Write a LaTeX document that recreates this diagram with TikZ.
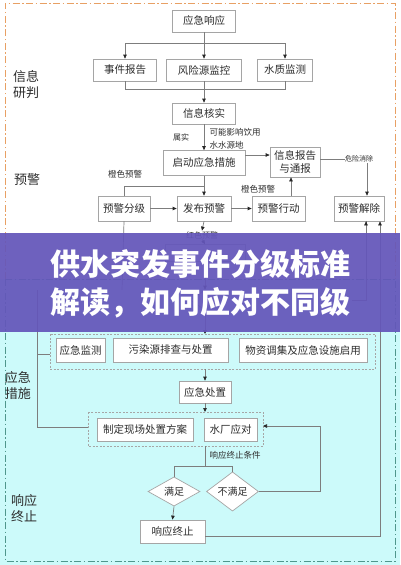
\documentclass[tikz,border=0pt]{standalone}
\usepackage{fontspec}
\newfontfamily\cjk{Noto Sans CJK SC}
\usetikzlibrary{shapes.geometric,arrows.meta}
\definecolor{orangeb}{RGB}{232,160,100}
\definecolor{tealb}{RGB}{80,150,140}
\definecolor{cyanbg}{RGB}{204,250,250}
\definecolor{boxline}{RGB}{165,165,165}
\definecolor{txt}{RGB}{45,45,45}
\definecolor{bannerc}{RGB}{100,86,186}
\definecolor{conn}{RGB}{125,125,125}
\tikzset{
  box/.style={draw=boxline, fill=white, line width=0.7pt, inner sep=0pt, text=txt,
    font=\cjk\fontsize{10.5}{13}\selectfont, align=center},
  arr/.style={draw=conn, line width=0.7pt, -{Triangle[length=4pt,width=3.5pt,color=black!85]}},
  ln/.style={draw=conn, line width=0.7pt},
  lbl/.style={font=\cjk\fontsize{8.5}{10}\selectfont, text=txt, inner sep=0.5pt, align=left},
  slbl/.style={font=\cjk\fontsize{7}{8}\selectfont, text=txt, inner sep=0.5pt},
  side/.style={font=\cjk\fontsize{13}{16}\selectfont, text=txt, align=center, inner sep=0pt},
  grp/.style={draw=black!35, dash pattern=on 2pt off 1.5pt, line width=0.5pt},
  dia/.style={diamond, draw=boxline, fill=white, line width=0.7pt, inner sep=0pt,
    minimum width=52pt, minimum height=27pt, text=txt, font=\cjk\fontsize{10}{12}\selectfont}
}
\begin{document}
\begin{tikzpicture}[x=1pt,y=-1pt]
\useasboundingbox (0,0) rectangle (400,565);
\fill[white] (0,0) rectangle (400,565);
% backgrounds
\fill[cyanbg] (0,279) rectangle (400,565);
\draw[orangeb, line width=1pt, dash pattern=on 7pt off 2.5pt on 1.5pt off 2.5pt] (5,279) -- (5,3) -- (395,3) -- (395,279);
\draw[tealb, line width=1pt, dash pattern=on 7pt off 2.5pt on 1.5pt off 2.5pt] (5,279) -- (5,561) -- (395,561) -- (395,279) -- cycle;

% side labels
\node[side] (sInfo) at (26,85) {信息\\研判};
\node[side] (sWarn) at (27,180) {预警};
\node[side] (sMeas) at (18,386) {应急\\措施};
\node[side] (sEnd) at (24,508) {响应\\终止};

% top part
\node[box, minimum width=63pt, minimum height=22pt] (yjxy) at (204,21) {应急响应};
\node[box, minimum width=63pt, minimum height=22pt] (sjbg) at (125,70) {事件报告};
\node[box, minimum width=75pt, minimum height=22pt] (fxy) at (204,70) {风险源监控};
\node[box, minimum width=55pt, minimum height=22pt] (szjc) at (285,70) {水质监测};
\node[box, minimum width=63pt, minimum height=21pt] (xxhs) at (204,113.5) {信息核实};
\node[box, minimum width=82pt, minimum height=25pt] (qdyj) at (204,163) {启动应急措施};
\node[box, minimum width=50pt, minimum height=30pt, font=\cjk\fontsize{10.5}{12.5}\selectfont] (xxbg) at (295,162) {信息报告\\与通报};
\node[box, minimum width=52pt, minimum height=25pt] (yjfj) at (124,208.5) {预警分级};
\node[box, minimum width=54pt, minimum height=25pt] (fbyj) at (204,208.5) {发布预警};
\node[box, minimum width=53pt, minimum height=25pt] (yjxd) at (278.5,208.5) {预警行动};
\node[box, minimum width=50pt, minimum height=25pt] (yjjc) at (359,208.5) {预警解除};

\coordinate (h1) at (204,43);
\coordinate (h2) at (204,89);
\draw[ln] (yjxy.south) -- (h1);
\draw[ln] (sjbg.north |- h1) -- (szjc.north |- h1);
\draw[arr] (sjbg.north |- h1) -- (sjbg.north);
\draw[arr] (fxy.north |- h1) -- (fxy.north);
\draw[arr] (szjc.north |- h1) -- (szjc.north);
\draw[ln] (sjbg.south) -- (sjbg.south |- h2) -- (szjc.south |- h2) -- (szjc.south);
\draw[arr] (fxy.south) -- (xxhs.north);
\draw[arr] (xxhs.south) -- (qdyj.north);
\node[slbl, font=\cjk\fontsize{8}{9}\selectfont] (lShu) at (181,137) {属实};
\node[lbl, anchor=west, font=\cjk\fontsize{8.5}{12.5}\selectfont] (lKn) at (209,139) {可能影响饮用\\水水源地};
\draw[arr] (qdyj.east |- 0,155) -- (xxbg.west |- 0,155);
\draw[arr] (xxbg.east |- 0,159) -- (367,159) -- (yjjc.north -| 367,0);
\node[slbl, fill=white] (lWx) at (359,159) {危险消除};
\draw[ln] (yjfj.north) |- (fbyj.north |- 0,186);
\node[lbl] (lCs1) at (125,174) {橙色预警};
\draw[arr] (qdyj.south) -- (fbyj.north);
\draw[arr] (yjfj.east) -- (fbyj.west);
\draw[arr] (fbyj.east) -- (yjxd.west);
\draw[arr] (yjxd.north -| 291,0) -- (xxbg.south -| 291,0);
\node[lbl] (lCs2) at (258,189) {橙色预警};

% parts under the banner
\node[box, minimum width=80pt, minimum height=17pt] (hid1) at (205,253) {};
\node[slbl, fill=white, font=\cjk\fontsize{8}{9}\selectfont] (lHs) at (202,235) {红色预警};
\draw[arr] (fbyj.south) -- (lHs.north);
\draw[arr] (lHs.south) -- (hid1.north);
\draw[ln] (yjfj.south) -- (122,290);
\draw[orangeb!0, tealb, line width=1pt, dash pattern=on 7pt off 2.5pt on 1.5pt off 2.5pt] (5,279) -- (395,279);
\node[dia, minimum width=30pt, minimum height=20pt] (hid2) at (205,300) {};
\draw[arr] (hid1.south) -- (hid2.north);
\draw[ln] (yjjc.south -| 366,0) ++(0,0) -- (366,300) -- (352,300);
\draw[arr] (366,300) -- (yjjc.south -| 366,0);

% bottom part
\draw[grp] (50,334) rectangle (375,369);
\coordinate (g1t) at (205,334);
\coordinate (g1b) at (205,369);
\node[box, minimum width=49pt, minimum height=24pt] (yjjce) at (80.5,350) {应急监测};
\node[box, minimum width=115pt, minimum height=24pt] (wry) at (170.5,350) {污染源排查与处置};
\node[box, minimum width=128pt, minimum height=24pt] (wzdj) at (303,350) {物资调集及应急设施启用};
\draw[arr] (hid2.south) -- (g1t);
\node[box, minimum width=52pt, minimum height=22pt] (yjcz) at (205,392) {应急处置};
\draw[arr] (g1b) -- (yjcz.north);
\draw[grp] (88,412) rectangle (263,446);
\coordinate (g2t) at (205,412);
\coordinate (g2b) at (205,446);
\coordinate (g2r) at (263,426);
\coordinate (g2l) at (88,427);
\coordinate (g1l) at (50,354);
\draw[arr] (yjcz.south) -- (g2t);
\node[box, minimum width=96pt, minimum height=23pt] (zdxc) at (145,429.5) {制定现场处置方案};
\node[box, minimum width=53pt, minimum height=23pt] (scyd) at (230.5,429.5) {水厂应对};
\draw[ln] (37,290) -- (37,427) -- (g2l);
\draw[ln] (37,354) -- (g1l);

\node[dia] (mz) at (174,491.5) {满足};
\node[dia] (bmz) at (232.5,491.5) {不满足};
\node[box, minimum width=65pt, minimum height=23pt] (xyzz) at (172.5,531.5) {响应终止};
\coordinate (h3) at (205,466);
\draw[ln] (g2b) -- (h3);
\draw[ln] (mz.north) -- (mz.north |- h3) -- (bmz.north |- h3) -- (bmz.north);
\node[lbl, anchor=west, font=\cjk\fontsize{8.5}{10}\selectfont] (lTj) at (209,455) {响应终止条件};
\draw[arr] (mz.south) -- (xyzz.north);
\draw[arr] (bmz.east) -- (320,491.5) -- (320,426) -- (g2r);
\draw[arr] (xyzz.east |- 0,536) -- (380,536) -- (yjjc.south -| 380,0);

% banner
\fill[bannerc, opacity=0.93] (0,233) rectangle (400,332);
\node[font=\cjk\bfseries\fontsize{30}{34}\selectfont, text=white, inner sep=0pt] (t1) at (200,264) {供水突发事件分级标准};
\node[font=\cjk\bfseries\fontsize{30}{34}\selectfont, text=white, inner sep=0pt] (t2) at (200,303) {解读，如何应对不同级};
\end{tikzpicture}
\end{document}
